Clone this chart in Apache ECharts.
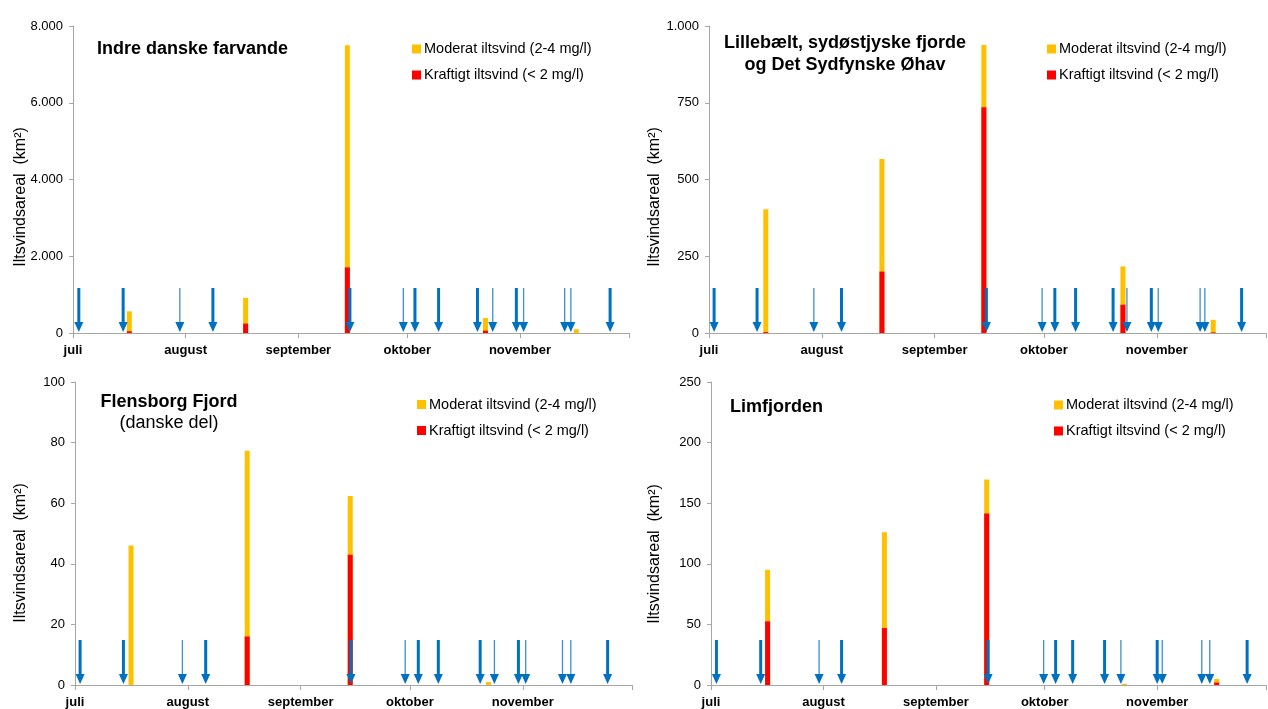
<!DOCTYPE html>
<html>
<head>
<meta charset="utf-8">
<script src="https://cdn.jsdelivr.net/npm/echarts@6/dist/echarts.min.js"></script>
<style>
  html, body { margin: 0; padding: 0; background: #fff; }
  #chart { width: 1268px; height: 709px; }
</style>
</head>
<body>
<div id="chart"></div>
<script>
// Season axis: days counted from 1 July (0 = 1 July, 153 = 1 December)
const monthStarts = [0, 31, 62, 92, 123];
const seasonEnd = 153;
const monthLabels = ['juli', 'august', 'september', 'oktober', 'november'];

const nameModerat = 'Moderat iltsvind (2-4 mg/l)';
const nameKraftigt = 'Kraftigt iltsvind (< 2 mg/l)';
const yTitle = 'Iltsvindsareal  (km²)';

// Indre danske farvande
const idfTitle = ['Indre danske farvande'];
const idfYAxis = [0, 8000, 2000];
const idfDays = [15.5, 47.5, 75.5, 113.5, 138.5];
const idfKraftigt = [45, 245, 1710, 60, 0];
const idfModerat = [520, 670, 5790, 330, 100];
const idfSampling = [1.6, 13.8, 38.5, 76.2, 94.1, 100.6, 111.3, 122, 147.8];
const idfSamplingLight = [29.4, 90.9, 115.5, 124, 135.3, 137];

// Lillebælt, sydøstjyske fjorde og Det Sydfynske Øhav
const lbTitle = ['Lillebælt, sydøstjyske fjorde', 'og Det Sydfynske Øhav'];
const lbYAxis = [0, 1000, 250];
const lbDays = [15.6, 47.5, 75.5, 113.7, 138.5];
const lbKraftigt = [3, 200, 735, 92, 2];
const lbModerat = [400, 367, 203, 125, 41];
const lbSampling = [1.4, 13.2, 36.4, 76.2, 95, 100.7, 111, 121.5, 146.3];
const lbSamplingLight = [28.8, 91.5, 114.8, 123.4, 134.9, 136.2];

// Flensborg Fjord (danske del)
const ffTitle = ['Flensborg Fjord', '(danske del)'];
const ffYAxis = [0, 100, 20];
const ffDays = [15.4, 47.3, 75.6, 113.6];
const ffKraftigt = [0, 16, 43, 0];
const ffModerat = [46, 61.3, 19.4, 1];
const ffSampling = [1.4, 13.3, 35.9, 75.8, 94.3, 99.8, 111.3, 121.8, 146.3];
const ffSamplingLight = [29.5, 90.7, 115.2, 123.8, 133.9, 136.2];

// Limfjorden
const lfTitle = ['Limfjorden'];
const lfYAxis = [0, 250, 50];
const lfDays = [15.6, 47.8, 76, 114, 139.4];
const lfKraftigt = [52.5, 47, 141.5, 0, 2];
const lfModerat = [42.5, 79, 28, 1, 3];
const lfSampling = [1.5, 13.7, 36, 76.4, 95, 99.7, 108.5, 123, 147.8];
const lfSamplingLight = [29.8, 91.7, 113, 124.4, 135.3, 137.5];

const FONT = 'Liberation Sans, Arial, sans-serif';
const AXIS_GREY = '#A6A6A6';

const panels = [
  { title: idfTitle, y: idfYAxis, days: idfDays, kraftigt: idfKraftigt, moderat: idfModerat,
    sampling: idfSampling, light: idfSamplingLight,
    grid: { left: 73, top: 26, width: 556, height: 307 },
    titlePos: { x: 97, y: 49, align: 'left' }, legendPos: { left: 412, top: 40.5 }, yTitlePos: { x: 21, y: 197 } },
  { title: lbTitle, y: lbYAxis, days: lbDays, kraftigt: lbKraftigt, moderat: lbModerat,
    sampling: lbSampling, light: lbSamplingLight,
    grid: { left: 709, top: 26, width: 557, height: 307 },
    titlePos: { x: 845, y: 43, align: 'center' }, legendPos: { left: 1047, top: 40.5 }, yTitlePos: { x: 655, y: 197 } },
  { title: ffTitle, y: ffYAxis, days: ffDays, kraftigt: ffKraftigt, moderat: ffModerat,
    sampling: ffSampling, light: ffSamplingLight,
    grid: { left: 75, top: 382, width: 557, height: 305 },
    titlePos: { x: 169, y: 402, align: 'center', secondLight: true }, legendPos: { left: 417, top: 396 }, yTitlePos: { x: 21, y: 553 } },
  { title: lfTitle, y: lfYAxis, days: lfDays, kraftigt: lfKraftigt, moderat: lfModerat,
    sampling: lfSampling, light: lfSamplingLight,
    grid: { left: 711, top: 382, width: 555, height: 305 },
    titlePos: { x: 730, y: 407, align: 'left' }, legendPos: { left: 1054, top: 396.5 }, yTitlePos: { x: 655, y: 554 } }
];

function thousands(v) {
  return String(v).replace(/\B(?=(\d{3})+(?!\d))/g, '.');
}

// Downward arrow marking a sampling date, drawn from the x-axis baseline
function arrowSeries(idx, days, light) {
  return {
    type: 'custom',
    xAxisIndex: idx,
    yAxisIndex: idx,
    z: 5,
    silent: true,
    data: days.map(d => [d, 0]),
    renderItem(params, api) {
      const p = api.coord([api.value(0), 0]);
      const x = p[0];
      const base = p[1];
      return {
        type: 'group',
        children: [
          {
            type: 'line',
            shape: { x1: x, y1: base - 45, x2: x, y2: base - 10 },
            style: { stroke: light ? '#3F8FD4' : '#0070C0', lineWidth: light ? 1.3 : 3 }
          },
          {
            type: 'polygon',
            shape: { points: [[x - 4.5, base - 11], [x + 4.5, base - 11], [x, base - 1]] },
            style: { fill: '#0070C0' }
          }
        ]
      };
    }
  };
}

const grids = [], xAxes = [], yAxes = [], series = [], legends = [], graphics = [];

panels.forEach((p, i) => {
  grids.push(Object.assign({ containLabel: false }, p.grid));

  xAxes.push({
    type: 'value',
    gridIndex: i,
    min: 0,
    max: seasonEnd,
    axisLine: { show: true, lineStyle: { color: AXIS_GREY, width: 1 } },
    axisTick: { show: true, length: 5, lineStyle: { color: AXIS_GREY },
      customValues: monthStarts.concat([seasonEnd]) },
    axisLabel: {
      customValues: monthStarts,
      formatter: v => monthLabels[monthStarts.indexOf(v)] || '',
      color: '#000', fontFamily: FONT, fontSize: 13, fontWeight: 'bold', margin: 11
    },
    splitLine: { show: false }
  });

  yAxes.push({
    type: 'value',
    gridIndex: i,
    min: p.y[0],
    max: p.y[1],
    interval: p.y[2],
    axisLine: { show: true, lineStyle: { color: AXIS_GREY, width: 1 } },
    axisTick: { show: true, length: 4, lineStyle: { color: AXIS_GREY } },
    axisLabel: { formatter: thousands, color: '#000', fontFamily: FONT, fontSize: 13, margin: 10 },
    splitLine: { show: false }
  });

  // Moderate area is stacked above the severe area: total column, with the severe part drawn over its base
  series.push({
    name: nameModerat,
    type: 'bar',
    xAxisIndex: i,
    yAxisIndex: i,
    barWidth: 5,
    barGap: '-100%',
    itemStyle: { color: '#FFC000' },
    data: p.days.map((d, k) => [d, p.kraftigt[k] + p.moderat[k]])
  });
  series.push({
    name: nameKraftigt,
    type: 'bar',
    xAxisIndex: i,
    yAxisIndex: i,
    barWidth: 5,
    barGap: '-100%',
    itemStyle: { color: '#FF0000' },
    data: p.days.map((d, k) => [d, p.kraftigt[k]])
  });
  series.push(arrowSeries(i, p.sampling, false));
  series.push(arrowSeries(i, p.light, true));

  legends.push({
    data: [nameModerat, nameKraftigt],
    orient: 'vertical',
    left: p.legendPos.left,
    top: p.legendPos.top,
    padding: 0,
    itemWidth: 9,
    itemHeight: 9,
    itemGap: 9,
    icon: 'rect',
    selectedMode: false,
    textStyle: { color: '#000', fontFamily: FONT, fontSize: 14.5, lineHeight: 17, padding: [0, 0, 0, -2] }
  });

  // Panel title
  p.title.forEach((line, k) => {
    const light = p.titlePos.secondLight && k === 1;
    graphics.push({
      type: 'text',
      x: p.titlePos.x,
      y: p.titlePos.y + k * (light ? 21 : 22),
      silent: true,
      style: {
        text: line,
        fill: '#000',
        font: (light ? 'normal ' : 'bold ') + '18px ' + FONT,
        textAlign: p.titlePos.align,
        textVerticalAlign: 'middle'
      }
    });
  });

  // Y-axis title
  graphics.push({
    type: 'text',
    x: p.yTitlePos.x,
    y: p.yTitlePos.y,
    rotation: Math.PI / 2,
    silent: true,
    style: {
      text: yTitle,
      fill: '#000',
      font: '16px ' + FONT,
      textAlign: 'center',
      textVerticalAlign: 'middle'
    }
  });
});

const chart = echarts.init(document.getElementById('chart'), null, { renderer: 'canvas' });
chart.setOption({
  animation: false,
  backgroundColor: '#fff',
  grid: grids,
  xAxis: xAxes,
  yAxis: yAxes,
  legend: legends,
  series: series,
  graphic: graphics
});
</script>
</body>
</html>
